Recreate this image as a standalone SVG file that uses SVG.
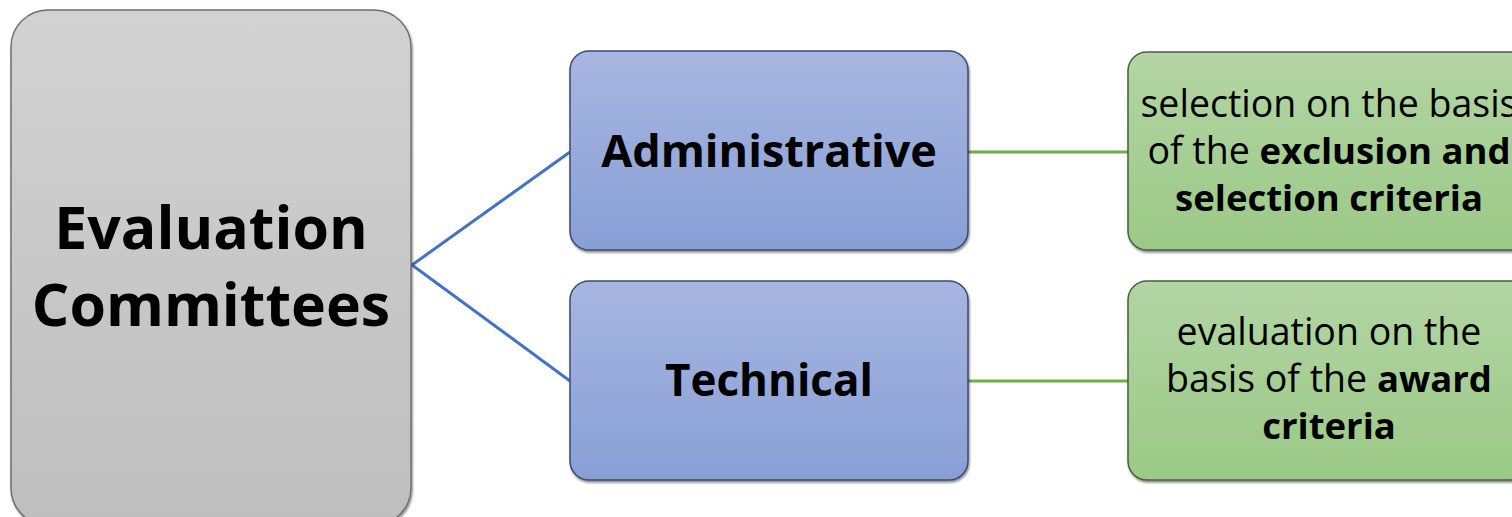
<svg xmlns="http://www.w3.org/2000/svg" width="1512" height="517" viewBox="0 0 1512 517">
<defs>
<linearGradient id="gGray" x1="0" y1="0" x2="0" y2="1">
<stop offset="0" stop-color="#d2d2d2"/><stop offset="1" stop-color="#bebebe"/>
</linearGradient>
<linearGradient id="gBlue" x1="0" y1="0" x2="0" y2="1">
<stop offset="0" stop-color="#a7b6e0"/><stop offset="1" stop-color="#889fd6"/>
</linearGradient>
<linearGradient id="gGreen" x1="0" y1="0" x2="0" y2="1">
<stop offset="0" stop-color="#b3d5a4"/><stop offset="1" stop-color="#9bc986"/>
</linearGradient>
<filter id="sh" x="-5%" y="-5%" width="110%" height="115%">
<feDropShadow dx="1" dy="2" stdDeviation="1" flood-color="#000" flood-opacity="0.45"/>
</filter>
</defs>
<style>
.t{font-family:"Open Sans","Noto Sans","Liberation Sans",sans-serif;fill:#000;text-anchor:middle}
.b{font-weight:bold}
.gray{fill:url(#gGray);stroke:#6f6f6f;stroke-width:1.5}
.blue{fill:url(#gBlue);stroke:#3d4a72;stroke-width:1.5}
.green{fill:url(#gGreen);stroke:#4a5e40;stroke-width:1.5}
.cb{stroke:#4472c4;stroke-width:3;fill:none}
.cg{stroke:#70ad47;stroke-width:3;fill:none}
.gt{font-size:37.5px}
.gb{font-weight:bold;font-size:36.5px}
</style>
<rect width="1512" height="517" fill="#fff"/>
<g id="connectors">
<polyline class="cb" points="570,152 412,265 570,381"/>
<line class="cg" x1="968" y1="152" x2="1128" y2="152"/>
<line class="cg" x1="968" y1="381" x2="1128" y2="381"/>
</g>
<g id="evaluation-committees">
<rect class="gray" x="11" y="10" width="400" height="515" rx="37" filter="url(#sh)"/>
<text class="t b" font-size="59"><tspan x="211" y="249">Evaluation</tspan><tspan x="211" y="326">Committees</tspan></text>
</g>
<g id="administrative">
<rect class="blue" x="570" y="51" width="398" height="199" rx="19" filter="url(#sh)"/>
<text class="t b" x="769" y="167" font-size="45">Administrative</text>
</g>
<g id="technical">
<rect class="blue" x="570" y="281" width="398" height="199" rx="19" filter="url(#sh)"/>
<text class="t b" x="769" y="396" font-size="44">Technical</text>
</g>
<g id="selection">
<rect class="green" x="1128" y="52" width="402" height="198" rx="19" filter="url(#sh)"/>
<text class="t gt"><tspan x="1329" y="117">selection on the basis</tspan><tspan x="1329" y="164">of the <tspan class="gb">exclusion and</tspan></tspan><tspan x="1329" y="211" class="gb">selection criteria</tspan></text>
</g>
<g id="evaluation">
<rect class="green" x="1128" y="281" width="402" height="199" rx="19" filter="url(#sh)"/>
<text class="t gt"><tspan x="1329" y="345">evaluation on the</tspan><tspan x="1329" y="392">basis of the <tspan class="gb">award</tspan></tspan><tspan x="1329" y="439" class="gb">criteria</tspan></text>
</g>
</svg>
